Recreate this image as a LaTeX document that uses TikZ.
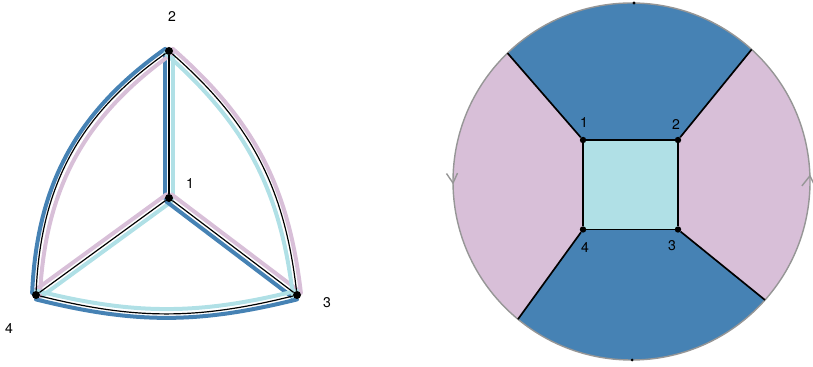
\documentclass[tikz,border=0pt]{standalone}
\usepackage{fontspec}
\setmainfont{TeX Gyre Heros}
\usetikzlibrary{calc,backgrounds}
\definecolor{faceblue}{RGB}{70,130,180}
\definecolor{facepink}{RGB}{216,191,216}
\definecolor{facecyan}{RGB}{176,224,230}
\definecolor{rimgray}{RGB}{150,150,150}
\begin{document}
\begin{tikzpicture}[x=0.025cm, y=0.025cm, font=\fontsize{10}{12}\selectfont,
      vtx/.style={circle, fill=black, inner sep=0pt, minimum size=2mm},
      sqv/.style={circle, fill=black, inner sep=0pt, minimum size=1.6mm},
      pin/.style={circle, fill=black, inner sep=0pt, minimum size=0.8mm},
      edge/.style={draw=black, line width=0.85pt},
      sqedge/.style={draw=black, line width=1.2pt},
      strip/.style={line width=1mm, line cap=round},
      rim/.style={draw=rimgray, line width=1pt},
      lbl/.style={inner sep=1pt}]
    \useasboundingbox (0,0) rectangle (813,367);

    % left: graph with the face strips beside each edge
    \node[vtx] (v1) at (169,169) {};
    \node[vtx] (v2) at (169,316) {};
    \node[vtx] (v3) at (297,72) {};
    \node[vtx] (v4) at (36,72) {};
    \node[lbl] (n1) at (190,183) {1};
    \node[lbl] (n2) at (172,350) {2};
    \node[lbl] (n3) at (327,64) {3};
    \node[lbl] (n4) at (9,38) {4};
    \begin{scope}[on background layer]
      \foreach \a/\b/\bd/\lc/\rc in {v2/v1/0/facecyan/faceblue, v1/v4/0/facecyan/facepink,
          v1/v3/0/facepink/faceblue, v2/v4/-26/facepink/faceblue,
          v2/v3/21/facepink/facecyan, v4/v3/-14/facecyan/faceblue}{
        \draw[strip, draw=\lc] ($(\a.center)!1.1mm!90:(\b.center)$) to[bend left=\bd] ($(\b.center)!1.1mm!-90:(\a.center)$);
        \draw[strip, draw=\rc] ($(\a.center)!1.1mm!-90:(\b.center)$) to[bend left=\bd] ($(\b.center)!1.1mm!90:(\a.center)$);
      }
      \draw[edge] (v2) -- (v1);
      \draw[edge] (v1) -- (v4);
      \draw[edge] (v1) -- (v3);
      \draw[edge] (v2) to[bend right=26] (v4);
      \draw[edge] (v2) to[bend left=21] (v3);
      \draw[edge] (v4) to[bend right=14] (v3);
    \end{scope}

    % right: the same map on the disc with antipodal rim
    \coordinate (c) at (631.5,185.5);
    \coordinate (p1) at ($(c)+(134:178.5)$);
    \coordinate (p2) at ($(c)+(47.7:178.5)$);
    \coordinate (p3) at ($(c)+(-41.6:178.5)$);
    \coordinate (p4) at ($(c)+(-129.5:178.5)$);
    \coordinate (wl) at ($(c)+(180.5:178.5)$);
    \coordinate (wr) at ($(c)+(1.8:178.5)$);
    \node[sqv] (s1) at (583,227) {};
    \node[sqv] (s2) at (678,227) {};
    \node[sqv] (s3) at (678,137.5) {};
    \node[sqv] (s4) at (583,137.5) {};
    \node[pin] (top) at ($(c)+(89.2:178.5)$) {};
    \node[pin] (bot) at ($(c)+(-89.8:178.5)$) {};
    \node[lbl] (m1) at (584,244) {1};
    \node[lbl] (m2) at (676,242.5) {2};
    \node[lbl] (m3) at (672,121) {3};
    \node[lbl] (m4) at (585,119.5) {4};
    \begin{scope}[on background layer]
      \fill[facepink] (c) circle[radius=178.5];
      \fill[faceblue] (s1.center) -- (p1) arc[start angle=134, end angle=47.7, radius=178.5] -- (s2.center) -- cycle;
      \fill[faceblue] (s3.center) -- (p3) arc[start angle=-41.6, end angle=-129.5, radius=178.5] -- (s4.center) -- cycle;
      \fill[facecyan] (s1.center) rectangle (s3.center);
      \draw[rim] (c) circle[radius=178.5];
      \draw[rim] ($(wl)+(-6.5,9.5)$) -- (wl) -- ($(wl)+(4.5,10)$);
      \draw[rim] ($(wr)+(-8,-10)$) -- (wr) -- ($(wr)+(5,-10)$);
      \draw[sqedge] (s1) -- (p1);
      \draw[sqedge] (s2) -- (p2);
      \draw[sqedge] (s3) -- (p3);
      \draw[sqedge] (s4) -- (p4);
      \draw[sqedge] (s1) -- (s2) -- (s3) -- (s4) -- (s1);
    \end{scope}
\end{tikzpicture}
\end{document}
